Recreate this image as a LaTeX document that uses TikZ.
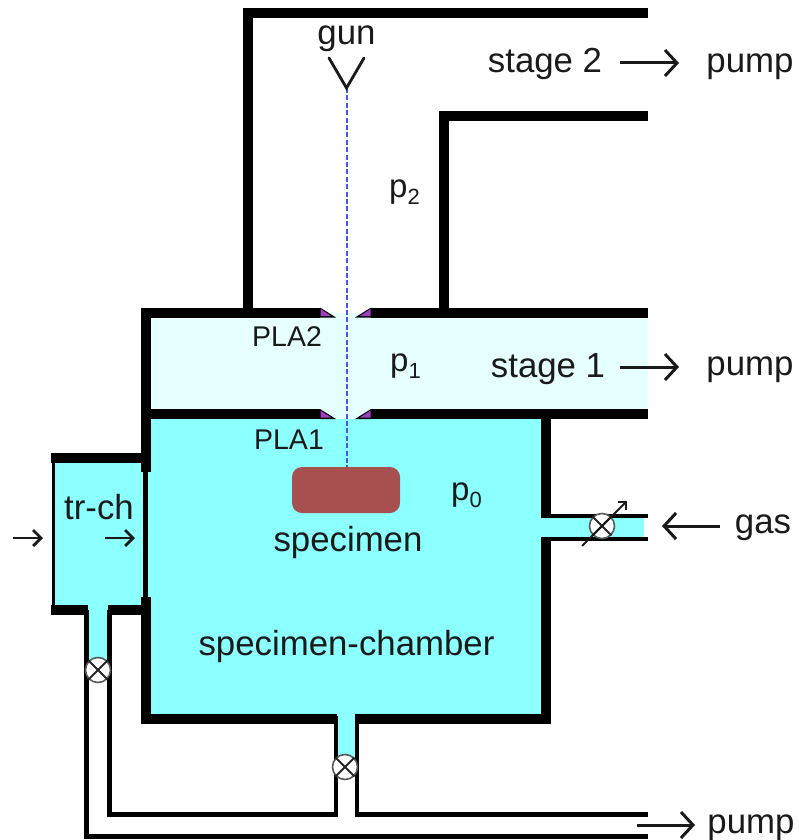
\documentclass[tikz,border=0pt]{standalone}
\usepackage{fontspec}
\setmainfont{Liberation Sans}
\usetikzlibrary{arrows.meta}
\definecolor{cham}{HTML}{8CFFFF}
\definecolor{paleS}{HTML}{E6FFFF}
\definecolor{spec}{HTML}{A85050}
\definecolor{plaC}{HTML}{A040C0}
\definecolor{beamC}{HTML}{4455F0}
\definecolor{inkC}{HTML}{1A1A1A}
\newcommand{\subp}[1]{p\raisebox{-7pt}{\fontsize{22}{24}\selectfont #1}}
\tikzset{
  x=1pt,y=-1pt,
  wall/.style={line width=10pt,black,miter limit=10},
  thinwall/.style={line width=4.2pt,black},
  lab/.style={anchor=base,inner sep=0pt,text=inkC,font=\fontsize{34.8}{36}\selectfont},
  smalllab/.style={anchor=base,inner sep=0pt,text=inkC,font=\fontsize{28.5}{30}\selectfont},
  plab/.style={anchor=base west,inner sep=0pt,text=inkC,font=\fontsize{33}{35}\selectfont},
  arr/.style={line width=3pt,inkC,-{Straight Barb[length=12pt,width=26pt,line width=3pt]}},
  arrsm/.style={line width=2.8pt,inkC,-{Straight Barb[length=8pt,width=16pt,line width=2.8pt]}},
  valve/.style={circle,draw=black!65,fill=white,line width=1.6pt,minimum size=25pt,inner sep=0pt},
  plafill/.style={fill=plaC,draw=none},
  plaback/.style={fill=black,draw=none},
  beam/.style={line width=2pt,beamC,dash pattern=on 5pt off 2.4pt},
}
\newcommand{\valvex}[1]{\draw[line width=1.8pt,black!85] (#1.45)--(#1.225) (#1.135)--(#1.315);}
\begin{document}
\begin{tikzpicture}
\useasboundingbox (0,0) rectangle (799,840);
% fills
\fill[paleS] (146,313) rectangle (648,419);
\fill[cham] (146,419) rectangle (546,719);
\fill[cham] (53,458) rectangle (146,610);
\fill[cham] (546,517) rectangle (644,538);
\fill[cham] (88,608) rectangle (108,670);
\fill[cham] (336,716) rectangle (356,767);
% stage 2 casing
\draw[wall] (648,13.5) -- (248,13.5) -- (248,313);
\draw[wall] (648,116) -- (444,116) -- (444,313);
% stage-1 and chamber walls
\draw[wall] (320,312.5) -- (146,312.5) -- (146,472);
\draw[wall] (371,312.5) -- (648,312.5);
\draw[wall] (320,414) -- (146,414);
\draw[wall] (371,414) -- (648,414);
\draw[wall] (546,414) -- (546,518);
\draw[wall] (546,537) -- (546,719) -- (355,719);
\draw[wall] (337,719) -- (146,719) -- (146,597);
% apertures
\fill[plaback] (320,307.5) -- (336,317.5) -- (320,317.5) -- cycle;
\fill[plaback] (371,307.5) -- (355,317.5) -- (371,317.5) -- cycle;
\fill[plaback] (320,409) -- (336,419) -- (320,419) -- cycle;
\fill[plaback] (371,409) -- (355,419) -- (371,419) -- cycle;
\fill[plafill] (320.5,309) -- (331,316) -- (320.5,316) -- cycle;
\fill[plafill] (370.5,309) -- (360,316) -- (370.5,316) -- cycle;
\fill[plafill] (320.5,410.5) -- (331,417.5) -- (320.5,417.5) -- cycle;
\fill[plafill] (370.5,410.5) -- (360,417.5) -- (370.5,417.5) -- cycle;
% transfer chamber
\draw[wall] (51,458) -- (141,458);
\draw[line width=3.6pt] (53.5,453) -- (53.5,615);
\draw[wall] (51,610) -- (88,610);
\draw[wall] (108,610) -- (141,610);
\draw[line width=5pt] (145.5,470) -- (145.5,600);
% pipes
\draw[thinwall] (86.5,610) -- (86.5,836.5) -- (648,836.5);
\draw[thinwall] (109.5,610) -- (109.5,814.5) -- (336,814.5) -- (336,716);
\draw[thinwall] (357,716) -- (357,814.5) -- (648,814.5);
\draw[thinwall] (541,516) -- (648,516);
\draw[thinwall] (541,539) -- (648,539);
% specimen, beam, gun
\node[draw=none,fill=spec,rounded corners=10pt,minimum width=108pt,minimum height=46pt,inner sep=0pt] (specimen) at (346,490) {};
\coordinate (gunTip) at (346.5,88);
\draw[beam] (gunTip) -- (specimen.north -| gunTip);
\draw[line width=2.8pt,inkC,line cap=round,line join=miter] (329,58) -- (gunTip) -- (364,58);
% valves
\node[valve] (v1) at (98,670) {};
\node[valve] (v2) at (345,767) {};
\node[valve] (v3) at (602,526) {};
\valvex{v1}\valvex{v2}\valvex{v3}
\coordinate (vA) at (582,546);
\coordinate (vB) at (627,501);
\draw[line width=1.8pt,inkC,-{Straight Barb[length=6pt,width=12pt,line width=1.8pt]}] (vA) -- (vB);
% labels
\node[lab] (gun) at (346.5,45) {gun};
\node[lab] (s2) at (545,73) {stage 2};
\node[lab] (pump2) at (750,73) {pump};
\node[plab] (p2) at (389,197) {\subp{2}};
\node[smalllab] (pla2) at (287,346) {PLA2};
\node[plab] (p1) at (390,371) {\subp{1}};
\node[lab] (s1) at (548,377) {stage 1};
\node[lab] (pump1) at (750,375) {pump};
\node[smalllab] (pla1) at (289,449) {PLA1};
\node[plab] (p0) at (451,500) {\subp{0}};
\node[lab] (trch) at (99,519) {tr-ch};
\node[lab] (specl) at (348,551) {specimen};
\node[lab] (chamb) at (346.5,655) {specimen-chamber};
\node[lab] (gas) at (763,533) {gas};
\node[lab] (pump0) at (751,833) {pump};
% arrows
\coordinate (a2s) at (620,63); \coordinate (a2e) at (679,63);
\draw[arr] (a2s) -- (a2e);
\coordinate (a1s) at (620,367); \coordinate (a1e) at (679,367);
\draw[arr] (a1s) -- (a1e);
\coordinate (ags) at (720,526); \coordinate (age) at (662,526);
\draw[arr] (ags) -- (age);
\coordinate (aps) at (637,825); \coordinate (ape) at (695,825);
\draw[arr] (aps) -- (ape);
\coordinate (t1s) at (13,538); \coordinate (t1e) at (43,538);
\draw[arrsm] (t1s) -- (t1e);
\coordinate (t2s) at (105,538); \coordinate (t2e) at (135,538);
\draw[arrsm] (t2s) -- (t2e);
\end{tikzpicture}
\end{document}
